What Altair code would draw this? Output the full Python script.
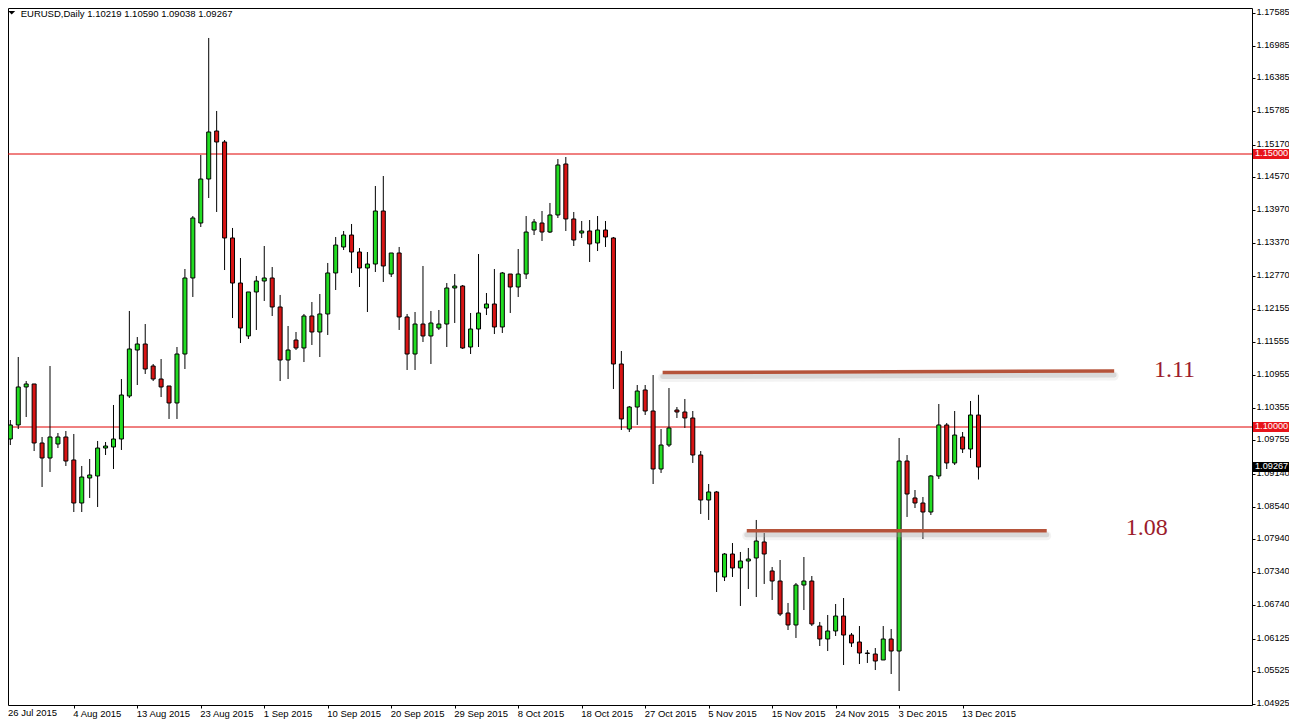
import json
import altair as alt
import pandas as pd

# ---------------- data ----------------
symbol = "EURUSD,Daily"
last_ohlc = [1.10219, 1.10590, 1.09038, 1.09267]

opens = [1.09780, 1.10037, 1.10733, 1.10788, 1.09707, 1.09432, 1.09689, 1.09817, 1.09396, 1.08608,
         1.09066, 1.09103, 1.09615, 1.09634, 1.09780, 1.10568, 1.11410, 1.11520, 1.11117, 1.10879,
         1.10751, 1.10440, 1.11337, 1.12729, 1.13736, 1.14542, 1.15421, 1.15220, 1.13462, 1.12637,
         1.11667, 1.12473, 1.12674, 1.12729, 1.12198, 1.11227, 1.11593, 1.11447, 1.12033, 1.11740,
         1.12070, 1.12821, 1.13297, 1.13516, 1.13205, 1.12912, 1.12985, 1.13956, 1.12802, 1.13187,
         1.12015, 1.11337, 1.11886, 1.11667, 1.11813, 1.11886, 1.12546, 1.12582, 1.11465, 1.11795,
         1.12179, 1.12253, 1.11832, 1.12802, 1.12564, 1.12802, 1.13608, 1.13736, 1.13571, 1.13883,
         1.14817, 1.13810, 1.13553, 1.13590, 1.13370, 1.13608, 1.13462, 1.11154, 1.09963, 1.10366,
         1.10678, 1.10293, 1.09231, 1.09670, 1.10311, 1.10275, 1.10165, 1.09487, 1.08663, 1.08810,
         1.07253, 1.07674, 1.07418, 1.07546, 1.07601, 1.07894, 1.07363, 1.07179, 1.06593, 1.06374,
         1.07106, 1.07179, 1.06355, 1.06117, 1.06264, 1.06538, 1.06190, 1.06062, 1.05861, 1.05842,
         1.05733, 1.06117, 1.05897, 1.09377, 1.08700, 1.08608, 1.08443, 1.09103, 1.10037, 1.09341,
         1.09817, 1.09597, 1.10219]
highs = [1.10128, 1.11282, 1.10842, 1.10788, 1.09817, 1.11117, 1.09890, 1.09927, 1.09872, 1.09286,
         1.09414, 1.09744, 1.09725, 1.10403, 1.10879, 1.12125, 1.11648, 1.11886, 1.11154, 1.11245,
         1.10751, 1.11465, 1.12894, 1.13864, 1.14982, 1.17125, 1.15788, 1.15256, 1.13645, 1.13095,
         1.12473, 1.12766, 1.13315, 1.12930, 1.12418, 1.11850, 1.11740, 1.12070, 1.12289, 1.12436,
         1.13004, 1.13480, 1.13590, 1.13718, 1.13278, 1.13205, 1.14414, 1.14597, 1.13187, 1.13297,
         1.12070, 1.12106, 1.12949, 1.12125, 1.12143, 1.12637, 1.12802, 1.12601, 1.12088, 1.13168,
         1.12454, 1.12894, 1.12839, 1.12802, 1.13260, 1.13864, 1.13810, 1.13956, 1.14103, 1.14908,
         1.14945, 1.13938, 1.13773, 1.13791, 1.13864, 1.13773, 1.13480, 1.11392, 1.10385, 1.10769,
         1.10769, 1.10952, 1.09963, 1.10714, 1.10366, 1.10513, 1.10293, 1.09560, 1.08956, 1.08828,
         1.07692, 1.07875, 1.07711, 1.07784, 1.08297, 1.08059, 1.07436, 1.07564, 1.06777, 1.07143,
         1.07619, 1.07271, 1.06429, 1.06557, 1.06758, 1.06868, 1.06227, 1.06355, 1.05916, 1.05952,
         1.06355, 1.06300, 1.09799, 1.09487, 1.08846, 1.08718, 1.09121, 1.10421, 1.10073, 1.10293,
         1.09908, 1.10476, 1.10590]
lows = [1.09670, 1.09963, 1.10183, 1.09560, 1.08901, 1.09176, 1.09615, 1.09286, 1.08443, 1.08443,
        1.08700, 1.08535, 1.09487, 1.09231, 1.09579, 1.10531, 1.10769, 1.10971, 1.10842, 1.10549,
        1.10147, 1.10147, 1.11062, 1.12381, 1.13663, 1.14194, 1.13938, 1.12875, 1.11996, 1.11538,
        1.11612, 1.11777, 1.12308, 1.12033, 1.10842, 1.10879, 1.11410, 1.11190, 1.11502, 1.11282,
        1.11685, 1.12509, 1.13242, 1.12821, 1.12564, 1.12106, 1.12839, 1.12656, 1.12747, 1.11777,
        1.11044, 1.11044, 1.11557, 1.11154, 1.11777, 1.11465, 1.11905, 1.11429, 1.11337, 1.11465,
        1.12051, 1.11703, 1.11722, 1.12088, 1.12381, 1.12711, 1.13516, 1.13407, 1.13553, 1.13828,
        1.13590, 1.13315, 1.13462, 1.13022, 1.13223, 1.13297, 1.10696, 1.09945, 1.09908, 1.10037,
        1.10220, 1.08956, 1.09158, 1.09634, 1.10165, 1.09982, 1.09341, 1.08407, 1.08297, 1.06978,
        1.07179, 1.07253, 1.06722, 1.07033, 1.06886, 1.07125, 1.06832, 1.06538, 1.06282, 1.06136,
        1.06648, 1.06355, 1.05989, 1.05897, 1.06172, 1.05641, 1.05971, 1.05659, 1.05678, 1.05549,
        1.05733, 1.05476, 1.05165, 1.08352, 1.08516, 1.07949, 1.08388, 1.09048, 1.09231, 1.09304,
        1.09524, 1.09432, 1.09038]
closes = [1.10037, 1.10733, 1.10788, 1.09707, 1.09432, 1.09817, 1.09817, 1.09377, 1.08608, 1.09084,
          1.09121, 1.09615, 1.09652, 1.09780, 1.10586, 1.11429, 1.11520, 1.11062, 1.10879, 1.10733,
          1.10440, 1.11337, 1.12729, 1.13828, 1.14542, 1.15403, 1.15220, 1.13462, 1.12637, 1.11813,
          1.12473, 1.12674, 1.12729, 1.12198, 1.11227, 1.11410, 1.11447, 1.12033, 1.11740, 1.12070,
          1.12821, 1.13333, 1.13516, 1.13205, 1.12912, 1.12985, 1.13956, 1.12949, 1.13187, 1.12015,
          1.11337, 1.11886, 1.11667, 1.11905, 1.11886, 1.12546, 1.12582, 1.11447, 1.11795, 1.12088,
          1.12253, 1.11832, 1.12821, 1.12564, 1.12802, 1.13571, 1.13755, 1.13571, 1.13883, 1.14799,
          1.13810, 1.13425, 1.13590, 1.13352, 1.13608, 1.13480, 1.11154, 1.10147, 1.10366, 1.10659,
          1.10293, 1.09231, 1.09670, 1.09982, 1.10275, 1.10165, 1.09487, 1.08663, 1.08810, 1.07344,
          1.07674, 1.07418, 1.07546, 1.07582, 1.07912, 1.07674, 1.07179, 1.06575, 1.06374, 1.07106,
          1.07179, 1.06392, 1.06117, 1.06264, 1.06538, 1.06190, 1.06044, 1.05861, 1.05852, 1.05714,
          1.06117, 1.05897, 1.09377, 1.08773, 1.08608, 1.08443, 1.09103, 1.10037, 1.09341, 1.09853,
          1.09597, 1.10220, 1.09267]

date_labels = ["26 Jul 2015", "4 Aug 2015", "13 Aug 2015", "23 Aug 2015", "1 Sep 2015",
               "10 Sep 2015", "20 Sep 2015", "29 Sep 2015", "8 Oct 2015", "18 Oct 2015",
               "27 Oct 2015", "5 Nov 2015", "15 Nov 2015", "24 Nov 2015", "3 Dec 2015",
               "13 Dec 2015"]
bars_per_label = 8

price_ticks = [1.17585, 1.16985, 1.16385, 1.15785, 1.15170, 1.14570, 1.13970, 1.13370, 1.12770,
               1.12155, 1.11555, 1.10955, 1.10355, 1.09755, 1.09140, 1.08540, 1.07940, 1.07340,
               1.06740, 1.06125, 1.05525, 1.04925]
level_prices = [1.15, 1.10]

# hand-drawn trend lines (bar index, price)
trend_x1 = [82.2, 92.8]
trend_x2 = [139.1, 130.6]
trend_y1 = [1.10998, 1.08100]
trend_y2 = [1.11026, 1.08100]
note_text = ["1.11", "1.08"]
note_x = [146.7, 143.2]
note_y = [1.11044, 1.08150]

# ---------------- build tables ----------------
n = len(opens)
bars = pd.DataFrame({
    "bar": list(range(n)), "open": opens, "high": highs, "low": lows, "close": closes,
})
bars["dir"] = ["up" if c >= o else "down" for o, c in zip(opens, closes)]

levels = pd.DataFrame({"price": level_prices, "label": [f"{p:.5f}" for p in level_prices]})
last_df = pd.DataFrame({"price": [last_ohlc[3]], "label": [f"{last_ohlc[3]:.5f}"]})
trends = pd.DataFrame({"x1": trend_x1, "x2": trend_x2, "y1": trend_y1, "y2": trend_y2})
notes = pd.DataFrame({"x": note_x, "y": note_y, "t": note_text})
title_df = pd.DataFrame({"t": [symbol + "  " + " ".join(f"{v:.5f}" for v in last_ohlc)]})
first_label_df = pd.DataFrame({"t": [date_labels[0]]})

# plot area geometry (8 px per daily bar, 5460 px per 1.0 of price)
W, H = 1244, 697
RIGHT = 37
x_lo = 0.3375
y_top, px_per_unit = 1.176740, 5460.0
xs = alt.Scale(domain=[x_lo, x_lo + W / 8.0], nice=False, zero=False)
ys = alt.Scale(domain=[y_top - H / px_per_unit, y_top], nice=False, zero=False)

FONT = "Liberation Sans"
AXFS = 9.2
GREEN = "#22DD22"
RED = "#D81414"
LINE_RED = "#E00000"
TREND = "#B5533A"

label_expr = json.dumps(date_labels) + f"[round(datum.value / {bars_per_label})]"

x_axis = alt.Axis(values=list(range(bars_per_label, n, bars_per_label)), labelExpr=label_expr,
                  orient="bottom", labelAlign="left", labelOffset=-1, labelPadding=0,
                  tickSize=3, title=None, labelFont=FONT, labelFontSize=9.5,
                  labelColor="black", tickColor="black", domain=False, grid=False)
y_axis = alt.Axis(values=price_ticks, format=".5f", orient="right", tickSize=3,
                  labelPadding=1, title=None, labelFont=FONT, labelFontSize=AXFS,
                  labelColor="black", tickColor="black", domain=False, grid=False,
                  labelBaseline="middle", labelOffset=-1.5)


def X(field):
    return alt.X(field, scale=xs, axis=x_axis, title=None)


def Y(field):
    return alt.Y(field, scale=ys, axis=y_axis, title=None)


base = alt.Chart(bars)

level_rules = alt.Chart(levels).mark_rule(color=LINE_RED, strokeWidth=1).encode(y=Y("price:Q"))

wicks = base.mark_rule(color="black", strokeWidth=1, clip=True).encode(
    x=X("bar:Q"), y=Y("low:Q"), y2="high:Q")

bodies = base.mark_bar(size=4, stroke="black", strokeWidth=1, clip=True).encode(
    x=X("bar:Q"), y=Y("open:Q"), y2="close:Q",
    color=alt.Color("dir:N", scale=alt.Scale(domain=["up", "down"], range=[GREEN, RED]),
                    legend=None))

tb = alt.Chart(trends)
tenc = dict(x=X("x1:Q"), x2="x2:Q", y=Y("y1:Q"), y2="y2:Q")
shadow1 = tb.mark_rule(color="#9a9a9a", strokeWidth=9, opacity=0.12, yOffset=5, y2Offset=5,
                       strokeCap="round").encode(**tenc)
shadow2 = tb.mark_rule(color="#a8a8a8", strokeWidth=5, opacity=0.35, yOffset=4, y2Offset=4,
                       strokeCap="round").encode(**tenc)
trend_lines = tb.mark_rule(color=TREND, strokeWidth=3.5).encode(**tenc)

note_marks = alt.Chart(notes).mark_text(font="Liberation Serif", fontSize=24, color="#9B1B2B",
                                        align="center", baseline="middle").encode(
    x=X("x:Q"), y=Y("y:Q"), text="t:N")

level_boxes = alt.Chart(levels).mark_rect(color="#E8141B", yOffset=-5, y2Offset=5).encode(
    x=alt.value(W + 1), x2=alt.value(W + RIGHT), y=Y("price:Q"), y2="price:Q")
level_text = alt.Chart(levels).mark_text(color="white", font=FONT, fontSize=AXFS, align="left",
                                         baseline="middle", dy=-1).encode(
    x=alt.value(W + 3), y=Y("price:Q"), text="label:N")

last_box = alt.Chart(last_df).mark_rect(color="black", yOffset=-5, y2Offset=5).encode(
    x=alt.value(W + 1), x2=alt.value(W + RIGHT), y=Y("price:Q"), y2="price:Q")
last_text = alt.Chart(last_df).mark_text(color="white", font=FONT, fontSize=AXFS, align="left",
                                         baseline="middle", dy=-1).encode(
    x=alt.value(W + 3), y=Y("price:Q"), text="label:N")

title_mark = alt.Chart(title_df).mark_text(font=FONT, fontSize=9.5, color="black", align="left",
                                           baseline="alphabetic").encode(
    x=alt.value(12.7), y=alt.value(8.7), text="t:N")
triangle = alt.Chart(title_df).mark_point(shape="M-1,-0.5L1,-0.5L0,0.5Z", size=49, filled=True,
                                          color="black", opacity=1).encode(
    x=alt.value(3.7), y=alt.value(4.8))

first_label = alt.Chart(first_label_df).mark_text(font=FONT, fontSize=9.5, color="black",
                                                  align="left", baseline="top").encode(
    x=alt.value(0), y=alt.value(H + 3), text="t:N")

chart = alt.layer(
    level_rules, wicks, bodies, shadow1, shadow2, trend_lines, note_marks,
    level_boxes, level_text, last_box, last_text, title_mark, triangle, first_label
).properties(
    width=W, height=H,
    autosize=alt.AutoSizeParams(type="none"),
    padding={"left": 0, "top": 0, "right": RIGHT, "bottom": 14},
).configure_view(stroke="black", strokeWidth=1)

chart.save("out.html", embed_options={"renderer": "svg", "actions": False})
